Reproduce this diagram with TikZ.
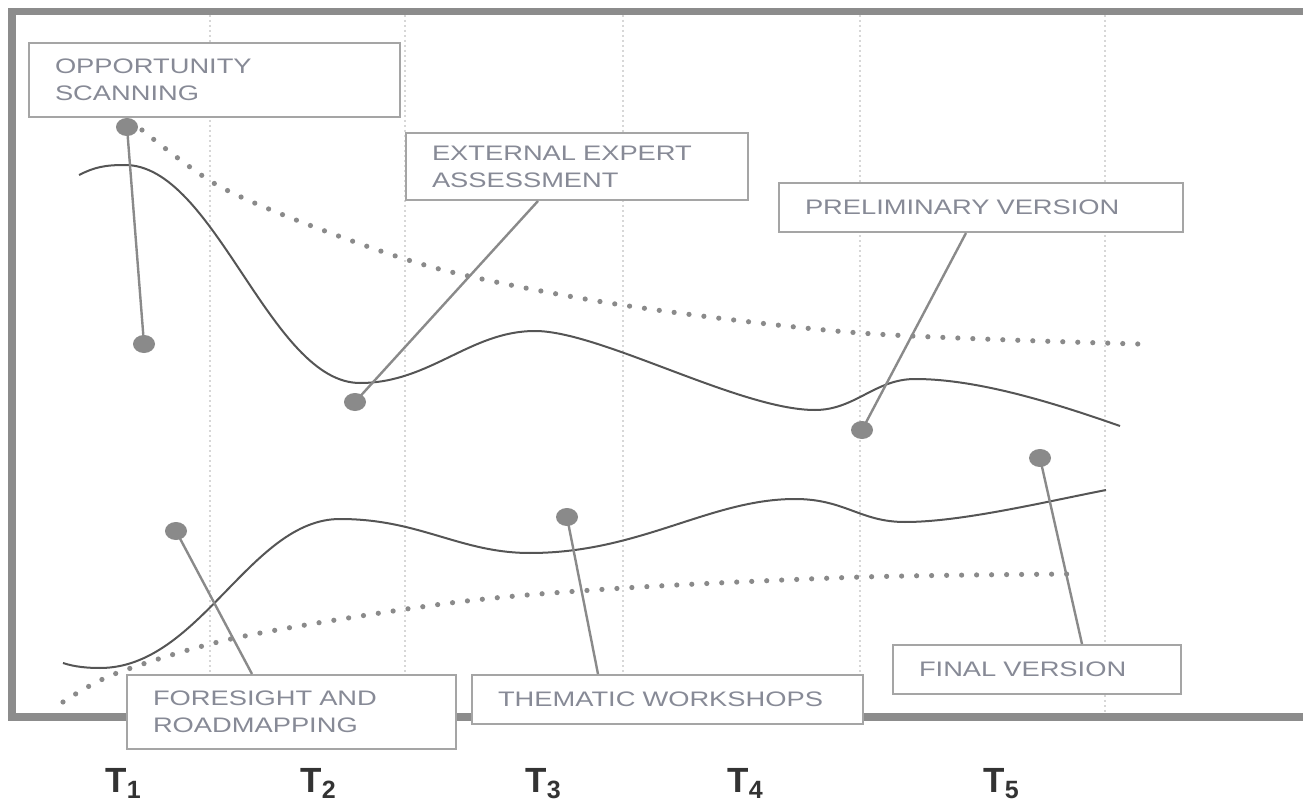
\documentclass[tikz,border=0pt]{standalone}
\usepackage{fontspec}
\setmainfont{Liberation Sans}
\newfontfamily\boxfont[FakeStretch=1.3]{Liberation Sans}

\newlength\pxu
\setlength\pxu{0.5pt}

\definecolor{framegray}{RGB}{140,140,140}
\definecolor{boxgray}{RGB}{165,165,165}
\definecolor{textgray}{RGB}{135,138,150}
\definecolor{curvegray}{RGB}{85,85,85}
\definecolor{leadgray}{RGB}{138,138,138}
\definecolor{gridgray}{RGB}{215,215,215}

\tikzset{
  labelbox/.style 2 args={draw=boxgray, line width=1pt, fill=white, anchor=north west,
    align=left, inner xsep=13pt, inner ysep=0pt, text width=#1\pxu, minimum height=#2\pxu,
    text=textgray, font=\boxfont\fontsize{10.5}{13.5}\selectfont},
  trend/.style={draw=curvegray, line width=1pt},
  bound/.style={draw=leadgray, line width=2.6pt, line cap=round, dash pattern=on 0pt off 7.5pt},
  leader/.style={draw=leadgray, line width=1.2pt},
  tlabel/.style={anchor=base west, inner sep=0pt, text=black!80, font=\bfseries\fontsize{17.5}{17.5}\selectfont}
}

\begin{document}
\begin{tikzpicture}[x=0.5pt, y=-0.5pt]
    \useasboundingbox (0,0) rectangle (1303,808);

    % Frame and time grid
    \draw[framegray, line width=3.6pt] (12,11.5) rectangle (1320,717);
    \foreach \gx in {210,405,623,860,1105}
        \draw[gridgray, line width=0.6pt, dash pattern=on 1pt off 1.5pt] (\gx,15) -- (\gx,713);
    \fill[curvegray] (593,716) ellipse [x radius=9\pxu, y radius=7\pxu];

    % Label boxes
    \node[labelbox={319}{74}] (opp) at (28,42) {OPPORTUNITY\\SCANNING};
    \node[labelbox={290}{67}] (ext) at (405,132) {EXTERNAL EXPERT\\ASSESSMENT};
    \node[labelbox={352}{49}] (pre) at (778,182) {PRELIMINARY VERSION};
    \node[labelbox={277}{74}] (fore) at (126,674) {FORESIGHT AND\\ROADMAPPING};
    \node[labelbox={339}{49}] (them) at (471,674) {THEMATIC WORKSHOPS};
    \node[labelbox={236}{49}] (fin) at (892,644) {FINAL VERSION};

    % Curves
    \draw[trend] (79,175) .. controls (95,167) and (105,165) .. (125,165)
        .. controls (215,165) and (270,383) .. (360,383)
        .. controls (430,383) and (470,331) .. (535,331)
        .. controls (600,331) and (740,410) .. (815,410)
        .. controls (855,410) and (875,379) .. (915,379)
        .. controls (980,379) and (1060,405) .. (1120,426);
    \draw[trend] (63,663) .. controls (75,667) and (88,668) .. (100,668)
        .. controls (200,668) and (250,519) .. (340,519)
        .. controls (420,519) and (460,553) .. (530,553)
        .. controls (640,553) and (710,499) .. (795,499)
        .. controls (845,499) and (860,522) .. (905,522)
        .. controls (960,522) and (1040,503) .. (1106,490);
    \draw[bound] plot[smooth] coordinates {(142,130) (217,185) (317,228) (443,270)
        (622,305) (860,333) (1138,344)};
    \draw[bound] plot[smooth] coordinates {(63,702) (117,673) (240,637) (450,603)
        (624,588) (862,577) (1074,574)};

    % Dots and leaders
    \coordinate (oppdot) at (127,127);
    \coordinate (oppend) at (144,344);
    \coordinate (extdot) at (355,402);
    \coordinate (predot) at (862,430);
    \coordinate (foredot) at (176,531);
    \coordinate (themdot) at (567,517);
    \coordinate (findot) at (1040,458);

    \draw[leader] (oppdot) -- (oppend);
    \draw[leader] (extdot) -- ([xshift=133\pxu]ext.south west);
    \draw[leader] (predot) -- ([xshift=188\pxu]pre.south west);
    \draw[leader] (foredot) -- ([xshift=126\pxu]fore.north west);
    \draw[leader] (themdot) -- ([xshift=127\pxu]them.north west);
    \draw[leader] (findot) -- ([xshift=190\pxu]fin.north west);

    \foreach \d in {oppdot,oppend,extdot,predot,foredot,themdot,findot}
        \fill[leadgray] (\d) ellipse [x radius=11\pxu, y radius=9\pxu];

    % Time points
    \foreach \tx/\tn in {105/1,300/2,525/3,727/4,983/5}
        \node[tlabel] (t\tn) at (\tx,792) {T\raisebox{-3pt}{\fontsize{12.5}{12.5}\selectfont\tn}};
\end{tikzpicture}
\end{document}
